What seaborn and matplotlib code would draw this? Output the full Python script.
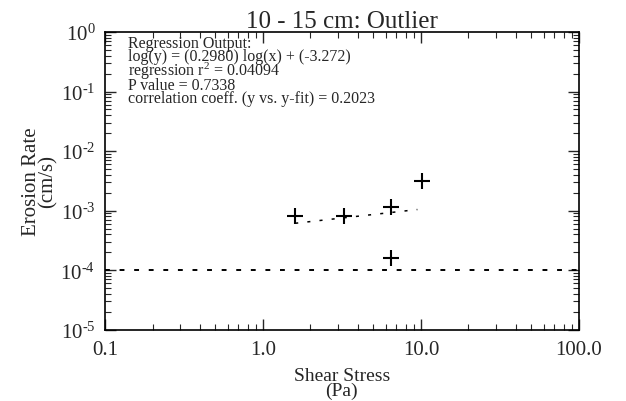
import numpy as np
import pandas as pd
import matplotlib
matplotlib.use("Agg")
import matplotlib.pyplot as plt
import seaborn as sns
from matplotlib.ticker import LogLocator, FixedLocator, FixedFormatter, NullFormatter

# Data
shear_stress = [1.6, 3.25, 6.5, 10.2, 6.5]
erosion_rate = [8.2e-4, 8.3e-4, 1.17e-3, 3.1e-3, 1.63e-4]
slope = 0.2980
intercept = -3.272
fit_x_range = [1.6, 9.5]
threshold = 1e-4
x_ticks = [0.1, 1.0, 10.0, 100.0]
x_tick_labels = ["0.1", "1.0", "10.0", "100.0"]
y_ticks = [1e-5, 1e-4, 1e-3, 1e-2, 1e-1, 1e0]
y_tick_labels = [r"10$^{\text{-5}}$", r"10$^{\text{-4}}$", r"10$^{\text{-3}}$",
                 r"10$^{\text{-2}}$", r"10$^{\text{-1}}$", r"10$^{\text{0}}$"]
annotation = ["Regression Output:",
              "log(y) = (0.2980) log(x) + (-3.272)",
              r"regression r$^{2}$ = 0.04094",
              "P value = 0.7338",
              "correlation coeff. (y vs. y-fit) = 0.2023"]

sns.set_style("ticks")
plt.rcParams['font.family'] = ['Liberation Serif', 'DejaVu Serif']
plt.rcParams['mathtext.fontset'] = 'custom'
plt.rcParams['mathtext.rm'] = 'Liberation Serif'
plt.rcParams['mathtext.it'] = 'Liberation Serif'

fig = plt.figure(figsize=(6.26, 4.02), dpi=100)
ax = fig.add_axes([0.1677, 0.177, 0.757, 0.741])

df = pd.DataFrame({"x": shear_stress, "y": erosion_rate})
sns.scatterplot(data=df, x="x", y="y", marker="+", s=120, color="black",
                linewidth=1.5, ax=ax, legend=False)

fx = np.linspace(fit_x_range[0], fit_x_range[1], 50)
fy = 10 ** (slope * np.log10(fx) + intercept)
sns.lineplot(x=fx, y=fy, color="black", linewidth=1.1, ax=ax,
             linestyle=(0, (2, 6)))

ax.axhline(threshold, color="black", linewidth=1.4, linestyle=(0, (2.5, 5)))

ax.set_xscale("log")
ax.set_yscale("log")
ax.set_xlim(0.1, 100)
ax.set_ylim(1e-5, 1e0)

ax.xaxis.set_major_locator(FixedLocator(x_ticks))
ax.xaxis.set_major_formatter(FixedFormatter(x_tick_labels))
ax.yaxis.set_major_locator(FixedLocator(y_ticks))
ax.yaxis.set_major_formatter(FixedFormatter(y_tick_labels))
ax.xaxis.set_minor_locator(LogLocator(base=10, subs=np.arange(2, 10), numticks=20))
ax.yaxis.set_minor_locator(LogLocator(base=10, subs=np.arange(2, 10), numticks=20))
ax.xaxis.set_minor_formatter(NullFormatter())
ax.yaxis.set_minor_formatter(NullFormatter())

ax.tick_params(which="major", direction="in", length=8, width=1.0,
               top=True, right=True, labelsize=15, pad=7)
ax.tick_params(which="minor", direction="in", length=4, width=0.8,
               top=True, right=True)
for s in ax.spines.values():
    s.set_linewidth(1.2)
    s.set_color("black")

ax.set_xlabel("Shear Stress\n(Pa)", fontsize=14, linespacing=0.85, labelpad=6)
ax.set_ylabel("Erosion Rate\n(cm/s)", fontsize=15, linespacing=0.8, labelpad=2)
ax.set_title("10 - 15 cm: Outlier", fontsize=18, pad=2)

ax.text(0.048, 0.99, "\n".join(annotation), transform=ax.transAxes,
        fontsize=11.5, va="top", ha="left", linespacing=0.72)

fig.savefig("out.png", dpi=100)
